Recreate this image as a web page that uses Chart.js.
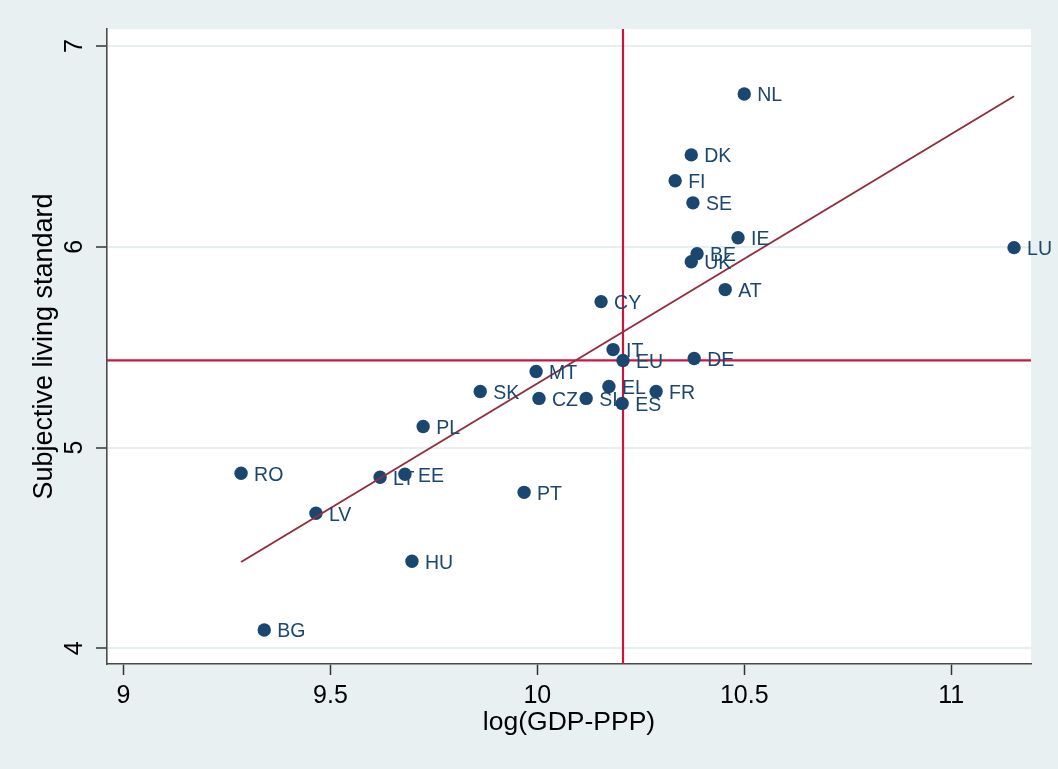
<!DOCTYPE html>
<html>
<head>
<meta charset="utf-8">
<script src="https://cdn.jsdelivr.net/npm/chart.js@4.4.0/dist/chart.umd.min.js"></script>
<style>
  html, body { margin: 0; padding: 0; background: #e9f0f2; }
  canvas { display: block; }
</style>
</head>
<body>
<canvas id="myChart" width="1058" height="769"></canvas>
<script>
// datos
var paises = ['NL','DK','FI','SE','IE','LU','BE','UK','AT','CY','IT','EU','DE','MT','SK','EL','FR','CZ','SI','ES','PL','RO','LT','EE','PT','LV','HU','BG'];
var gdp    = [10.500,10.372,10.333,10.376,10.485,11.152,10.386,10.372,10.454,10.154,10.183,10.207,10.379,9.997,9.862,10.173,10.287,10.004,10.118,10.205,9.724,9.284,9.620,9.680,9.968,9.465,9.697,9.340];
var nivel  = [6.761,6.458,6.329,6.219,6.045,5.996,5.966,5.926,5.787,5.727,5.488,5.434,5.444,5.379,5.279,5.304,5.279,5.245,5.245,5.220,5.105,4.872,4.852,4.867,4.777,4.673,4.434,4.091];

var xTicks = [9, 9.5, 10, 10.5, 11];
var yTicks = [4, 5, 6, 7];

// recta ajustada (extremos leidos)
var ajusteX = [9.284, 11.152];
var ajusteY = [4.43, 6.75];

// lineas de referencia (valor UE)
var refX = 10.207;
var refY = 5.434;

var xLim = [8.96, 11.193];
var yLim = [3.922, 7.085];

var azul = '#1a476f';
var fuente = '"Liberation Sans", Arial, sans-serif';

Chart.defaults.font.family = fuente;
Chart.defaults.color = '#000';

var puntos = paises.map(function (p, i) { return {x: gdp[i], y: nivel[i]}; });
var ajuste = ajusteX.map(function (v, i) { return {x: v, y: ajusteY[i]}; });

//Fondo
var fondo = {
  id: 'fondo',
  beforeDraw: function (chart) {
    var ctx = chart.ctx, a = chart.chartArea;
    ctx.save();
    ctx.fillStyle = '#e9f0f2';
    ctx.fillRect(0, 0, chart.width, chart.height);
    ctx.fillStyle = '#ffffff';
    ctx.fillRect(a.left, a.top, a.right - a.left, a.bottom - a.top);
    ctx.restore();
  }
};

//Etiquetas de paises
var etiquetas = {
  id: 'etiquetas',
  afterDatasetsDraw: function (chart) {
    var ctx = chart.ctx;
    var meta = chart.getDatasetMeta(0);
    ctx.save();
    ctx.font = '19.5px ' + fuente;
    ctx.fillStyle = azul;
    ctx.textBaseline = 'middle';
    ctx.textAlign = 'left';
    meta.data.forEach(function (p, i) {
      ctx.fillText(paises[i], p.x + 13, p.y + 2);
    });
    ctx.restore();
  }
};

var ctx = document.getElementById('myChart');
new Chart(ctx, {
  type: 'scatter',
  data: {
    datasets: [
      {
        label: 'paises',
        data: puntos,
        backgroundColor: azul,
        borderWidth: 0,
        pointRadius: 6.7,
        pointHoverRadius: 6.7,
        order: 1
      },
      {
        label: 'ajuste',
        data: ajuste,
        showLine: true,
        borderColor: '#922e3f',
        borderWidth: 2,
        pointRadius: 0,
        order: 0
      },
      {
        label: 'refX',
        data: [{x: refX, y: yLim[0]}, {x: refX, y: yLim[1]}],
        showLine: true,
        borderColor: '#c8163f',
        borderWidth: 2.2,
        pointRadius: 0,
        order: 2
      },
      {
        label: 'refY',
        data: [{x: xLim[0], y: refY}, {x: xLim[1], y: refY}],
        showLine: true,
        borderColor: '#c8163f',
        borderWidth: 2.2,
        pointRadius: 0,
        order: 2
      }
    ]
  },
  options: {
    responsive: false,
    animation: false,
    layout: { padding: { top: 28, right: 27, left: 0, bottom: 0 } },
    plugins: {
      legend: { display: false },
      tooltip: { enabled: false }
    },
    scales: {
      x: {
        type: 'linear',
        min: xLim[0],
        max: xLim[1],
        afterBuildTicks: function (scale) {
          scale.ticks = xTicks.map(function (v) { return {value: v}; });
        },
        afterFit: function (scale) { scale.height = 105; },
        ticks: {
          font: { size: 25 },
          padding: 6,
          maxRotation: 0,
          callback: function (v) { return String(v); }
        },
        grid: {
          drawOnChartArea: false,
          tickLength: 11,
          tickColor: '#333',
          tickWidth: 1.5
        },
        border: { display: true, color: '#4a4a4a', width: 1.6 },
        title: {
          display: true,
          text: 'log(GDP-PPP)',
          font: { size: 26.5 },
          padding: { top: 0, bottom: 30 }
        }
      },
      y: {
        type: 'linear',
        min: yLim[0],
        max: yLim[1],
        afterBuildTicks: function (scale) {
          scale.ticks = yTicks.map(function (v) { return {value: v}; });
        },
        afterFit: function (scale) { scale.width = 107; },
        ticks: {
          font: { size: 25 },
          padding: 14,
          minRotation: 90,
          maxRotation: 90,
          crossAlign: 'center',
          callback: function (v) { return String(v); }
        },
        grid: {
          color: '#e6eef0',
          lineWidth: 2,
          tickLength: 11,
          tickColor: '#333',
          tickWidth: 1.5
        },
        border: { display: true, color: '#4a4a4a', width: 1.6 },
        title: {
          display: true,
          text: 'Subjective living standard',
          font: { size: 27 },
          padding: { top: 28, bottom: 0 }
        }
      }
    }
  },
  plugins: [fondo, etiquetas]
});
</script>
</body>
</html>
